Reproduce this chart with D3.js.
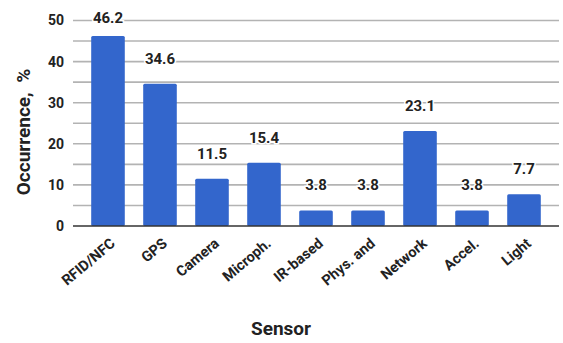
<!DOCTYPE html>
<html>
<head>
<meta charset="utf-8">
<script src="https://cdn.jsdelivr.net/npm/d3@7"></script>
<style>
  html, body { margin: 0; padding: 0; background: #fff; }
  svg { display: block; font-family: Roboto, "Noto Sans", sans-serif; }
</style>
</head>
<body>
<svg id="chart" width="563" height="343"></svg>
<script>
// Share of studies using each sensor type
const sensors = ["RFID/NFC", "GPS", "Camera", "Microph.", "IR-based", "Phys. and", "Network", "Accel.", "Light"];
const occurrence = [46.2, 34.6, 11.5, 15.4, 3.8, 3.8, 23.1, 3.8, 7.7];
const yTicks = [0, 10, 20, 30, 40, 50];
const gridValues = [5, 10, 15, 20, 25, 30, 35, 40, 45, 50];

const svg = d3.select("#chart");
const plot = { left: 73, right: 559, top: 20.5, bottom: 226 };

const x = d3.scaleBand()
  .domain(sensors)
  .range([plot.left, plot.right])
  .paddingInner(0.354)
  .paddingOuter(0.35);

const y = d3.scaleLinear()
  .domain([0, 50])
  .range([plot.bottom, plot.top]);

// Horizontal gridlines
svg.append("g")
  .selectAll("line")
  .data(gridValues)
  .join("line")
  .attr("x1", plot.left)
  .attr("x2", plot.right)
  .attr("y1", d => y(d))
  .attr("y2", d => y(d))
  .attr("stroke", "#b3b3b3")
  .attr("stroke-width", 1.6);

// Y axis tick labels
const yAxis = d3.axisLeft(y).tickValues(yTicks).tickSize(0).tickPadding(9);
svg.append("g")
  .attr("transform", `translate(${plot.left},0)`)
  .call(yAxis)
  .call(g => g.select(".domain").remove())
  .selectAll("text")
  .attr("font-family", "Roboto, sans-serif")
  .attr("font-size", 14)
  .attr("font-weight", "bold")
  .attr("fill", "#222");

// Bars
svg.append("g")
  .selectAll("rect")
  .data(sensors)
  .join("rect")
  .attr("x", d => x(d))
  .attr("width", x.bandwidth())
  .attr("y", (d, i) => y(occurrence[i]))
  .attr("height", (d, i) => y(0) - y(occurrence[i]))
  .attr("rx", 1.5)
  .attr("fill", "#3366cc");

// Baseline
svg.append("line")
  .attr("x1", plot.left)
  .attr("x2", plot.right)
  .attr("y1", y(0))
  .attr("y2", y(0))
  .attr("stroke", "#333")
  .attr("stroke-width", 1.3);

// Value labels above bars
svg.append("g")
  .selectAll("text")
  .data(sensors)
  .join("text")
  .attr("x", d => x(d) + x.bandwidth() / 2)
  .attr("y", (d, i) => Math.max(y(occurrence[i]) - 20, 23))
  .attr("text-anchor", "middle")
  .attr("font-size", 15)
  .attr("font-weight", "bold")
  .attr("fill", "#222")
  .attr("stroke", "#fff")
  .attr("stroke-width", 3)
  .attr("paint-order", "stroke")
  .text((d, i) => occurrence[i].toFixed(1));

// X axis category labels
const xAxis = d3.axisBottom(x).tickSize(0).tickPadding(0);
svg.append("g")
  .attr("transform", `translate(0,${plot.bottom})`)
  .call(xAxis)
  .call(g => g.select(".domain").remove())
  .selectAll("text")
  .attr("font-family", "Roboto, sans-serif")
  .attr("font-size", 14.5)
  .attr("font-weight", "bold")
  .attr("fill", "#222")
  .attr("text-anchor", "end")
  .attr("dy", null)
  .attr("transform", "translate(8,19) rotate(-40)");

// Axis titles
svg.append("text")
  .attr("transform", `translate(30,132) rotate(-90)`)
  .attr("text-anchor", "middle")
  .attr("font-size", 19)
  .attr("font-weight", "bold")
  .attr("fill", "#222")
  .attr("xml:space", "preserve")
  .style("white-space", "pre")
  .text("Occurrence,  %");

svg.append("text")
  .attr("x", 281)
  .attr("y", 335)
  .attr("text-anchor", "middle")
  .attr("font-size", 19)
  .attr("font-weight", "bold")
  .attr("fill", "#222")
  .text("Sensor");
</script>
</body>
</html>
